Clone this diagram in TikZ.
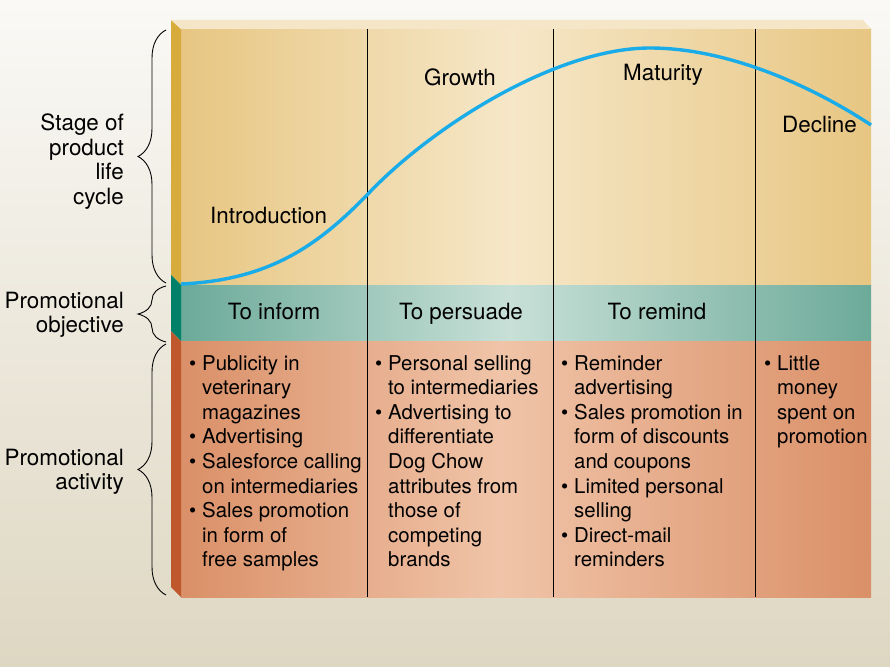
\documentclass[tikz,border=0pt]{standalone}
\usepackage{fontspec}
\setmainfont{TeX Gyre Heros}
\usetikzlibrary{decorations.pathreplacing}

\definecolor{bgtop}{RGB}{250,249,246}
\definecolor{bgbot}{RGB}{222,215,194}
\definecolor{ylwside}{RGB}{215,172,60}
\definecolor{ylwdark}{RGB}{231,198,130}
\definecolor{ylwlight}{RGB}{246,231,200}
\definecolor{tealside}{RGB}{0,128,104}
\definecolor{tealdark}{RGB}{108,170,153}
\definecolor{teallight}{RGB}{200,224,215}
\definecolor{rustside}{RGB}{192,88,46}
\definecolor{rustdark}{RGB}{218,144,104}
\definecolor{rustlight}{RGB}{240,196,168}
\definecolor{bevel}{RGB}{246,230,200}
\definecolor{plc}{RGB}{25,172,232}

\newcommand{\bl}{\makebox[13pt][l]{\textbullet}}
\newcommand{\hg}{\hspace*{13pt}}

\tikzset{
  stagelbl/.style={inner sep=0pt, anchor=base, font=\fontsize{22.4}{24.4}\selectfont},
  actlist/.style={inner sep=0pt, anchor=north west, align=left},
  sidelbl/.style={inner sep=0pt, anchor=north east, align=right, font=\fontsize{22.4}{24.4}\selectfont},
  bracelbl/.style={decorate, decoration={brace, amplitude=28pt}, line width=0.9pt},
  divider/.style={line width=0.9pt}
}

\begin{document}
\begin{tikzpicture}[x=1pt, y=-1pt, font=\fontsize{20.4}{24.6}\selectfont]
  \useasboundingbox (0,0) rectangle (890,666);
  \fill[top color=bgtop, bottom color=bgbot] (0,0) rectangle (890,666);

  % bands, lighter towards the middle
  \shade[left color=ylwdark, right color=ylwlight] (181,29) rectangle (510,285);
  \shade[left color=ylwlight, right color=ylwdark] (510,29) rectangle (871,285);
  \shade[left color=tealdark, right color=teallight] (181,285) rectangle (510,341);
  \shade[left color=teallight, right color=tealdark] (510,285) rectangle (871,341);
  \shade[left color=rustdark, right color=rustlight] (181,341) rectangle (500,597);
  \shade[left color=rustlight, right color=rustdark] (500,341) rectangle (871,597);

  % side and top edge
  \fill[ylwside] (171,20) -- (181,29) -- (181,285) -- (171,275) -- cycle;
  \fill[tealside] (171,275) -- (181,285) -- (181,341) -- (171,331) -- cycle;
  \fill[rustside] (171,331) -- (181,341) -- (181,597) -- (171,587) -- cycle;
  \fill[bevel] (171,20) -- (863,20) -- (871,29) -- (181,29) -- cycle;

  % dividers
  \foreach \x in {367,553,755}
    \draw[divider] (\x,29) -- (\x,597);

  % life cycle curve
  \draw[plc, line width=3.4pt] (181,284) .. controls (272,280) and (320,243) .. (367,195)
    .. controls (430,128) and (555,48) .. (650,48)
    .. controls (730,48) and (815,88) .. (871,125);

  \node[stagelbl, anchor=base west] (intro) at (210,223) {Introduction};
  \node[stagelbl] (growth) at (460,86) {Growth};
  \node[stagelbl] (maturity) at (663,81) {Maturity};
  \node[stagelbl, anchor=base west] (decline) at (782,132) {Decline};

  \node[stagelbl] (inform) at (274,319) {To inform};
  \node[stagelbl] (persuade) at (461,319) {To persuade};
  \node[stagelbl] (remind) at (657,319) {To remind};

  \node[actlist] (actintro) at (189,355) {\bl Publicity in\\\hg veterinary\\\hg magazines\\
    \bl Advertising\\\bl Salesforce calling\\\hg on intermediaries\\
    \bl Sales promotion\\\hg in form of\\\hg free samples};
  \node[actlist] (actgrowth) at (375,355) {\bl Personal selling\\\hg to intermediaries\\
    \bl Advertising to\\\hg differentiate\\\hg Dog Chow\\\hg attributes from\\
    \hg those of\\\hg competing\\\hg brands};
  \node[actlist] (actmat) at (561,355) {\bl Reminder\\\hg advertising\\
    \bl Sales promotion in\\\hg form of discounts\\\hg and coupons\\
    \bl Limited personal\\\hg selling\\\bl Direct-mail\\\hg reminders};
  \node[actlist] (actdecl) at (764,355) {\bl Little\\\hg money\\\hg spent on\\\hg promotion};

  % braces and row labels
  \coordinate (b1s) at (166,283);
  \coordinate (b1e) at (166,30);
  \coordinate (b2s) at (166,342);
  \coordinate (b2e) at (166,286);
  \coordinate (b3s) at (166,595);
  \coordinate (b3e) at (166,344);
  \draw[bracelbl] (b1s) -- (b1e);
  \draw[bracelbl] (b2s) -- (b2e);
  \draw[bracelbl] (b3s) -- (b3e);

  \node[sidelbl] (lbstage) at (124,114) {Stage of\\product\\life\\cycle};
  \node[sidelbl] (lbobj) at (124,292) {Promotional\\objective};
  \node[sidelbl] (lbact) at (124,449) {Promotional\\activity};
\end{tikzpicture}
\end{document}
